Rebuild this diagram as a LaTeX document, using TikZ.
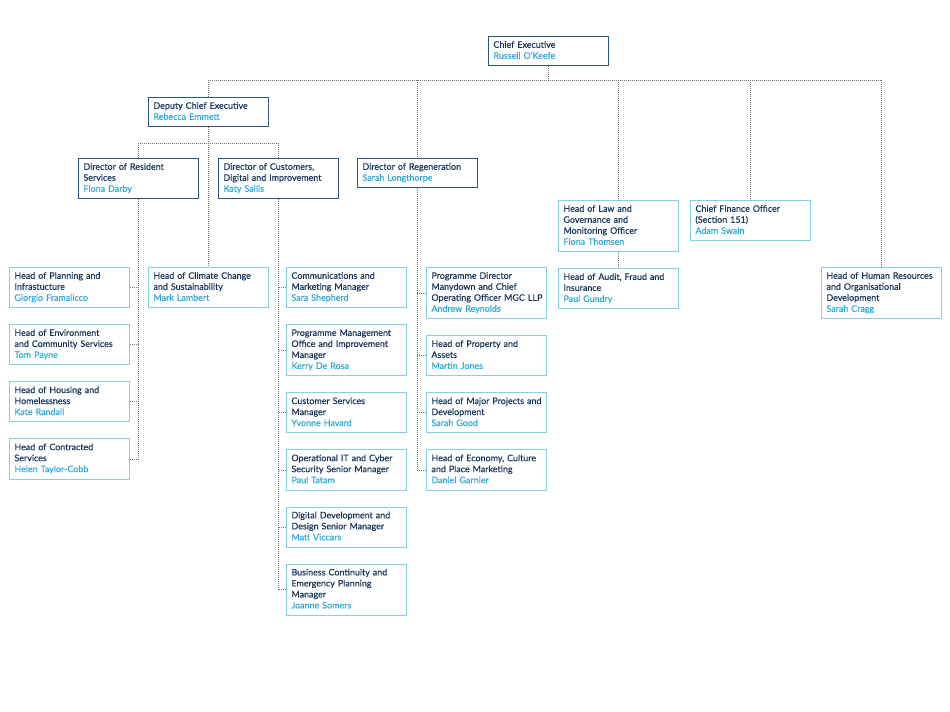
\documentclass[tikz,border=0pt]{standalone}
\usepackage{fontspec}
\setmainfont{Lato}
\usetikzlibrary{positioning}

\definecolor{darkframe}{HTML}{2B5680}
\definecolor{lightframe}{HTML}{86CFE4}
\definecolor{titletext}{HTML}{163459}
\definecolor{namecol}{HTML}{2FA8D4}
\definecolor{linegray}{HTML}{707070}

\newcommand{\post}[2]{#1\\\textcolor{namecol}{#2}}

\begin{document}
\begin{tikzpicture}[
        x=0.75pt, y=-0.75pt,
        box/.style={draw=darkframe, line width=0.7pt, rectangle, anchor=north west,
            text width=82.5pt, inner xsep=3.75pt, inner ysep=2.7pt, align=left,
            font=\fontsize{6.7}{8.25}\selectfont\addfontfeature{FakeBold=0.25}, text=titletext,
            execute at begin node=\strut, execute at end node=\strut},
        sub/.style={box, draw=lightframe},
        link/.style={draw=linegray, line width=0.6pt, dash pattern=on 0.6pt off 0.9pt},
    ]

    \tikzset{
        node distance=12pt,
    }

    \useasboundingbox (0,0) rectangle (950,712);

    \node[box] (ce) at (488,36) {\post{Chief Executive}{Russell O'Keefe}};
    \node[box] (dep) at (148,97) {\post{Deputy Chief Executive}{Rebecca Emmett}};
    \node[box] (drs) at (78,158) {\post{Director of Resident\\Services}{Fiona Darby}};
    \node[box] (dcdi) at (218,158) {\post{Director of Customers,\\Digital and Improvement}{Katy Sallis}};
    \node[box] (regen) at (357,158) {\post{Director of Regeneration}{Sarah Longthorpe}};

    \node[sub] (law) at (558,200) {\post{Head of Law and\\Governance and\\Monitoring Officer}{Fiona Thomsen}};
    \node[sub,below=of law] (audit) {\post{Head of Audit, Fraud and\\Insurance}{Paul Gundry}};
    \node[sub] (cfo) at (690,200) {\post{Chief Finance Officer\\(Section 151)}{Adam Swain}};
    \node[sub] (hr) at (821,267) {\post{Head of Human Resources\\and Organisational\\Development}{Sarah Cragg}};

    % resident services
    \node[sub] (plan) at (9,267) {\post{Head of Planning and\\Infrastucture}{Giorgio Framalicco}};
    \node[sub,below=of plan] (env) {\post{Head of Environment\\and Community Services}{Tom Payne}};
    \node[sub,below=of env] (housing) {\post{Head of Housing and\\Homelessness}{Kate Randall}};
    \node[sub,below=of housing] (contract) {\post{Head of Contracted\\Services}{Helen Taylor-Cobb}};
    \node[sub] (climate) at (148,267) {\post{Head of Climate Change\\and Sustainability}{Mark Lambert}};

    % customers, digital and improvement
    \node[sub] (comms) at (286,267) {\post{Communications and\\Marketing Manager}{Sara Shepherd}};
    \node[sub,below=of comms] (pmo) {\post{Programme Management\\Office and Improvement\\Manager}{Kerry De Rosa}};
    \node[sub,below=of pmo] (csm) {\post{Customer Services\\Manager}{Yvonne Havard}};
    \node[sub,below=of csm] (ict) {\post{Operational IT and Cyber\\Security Senior Manager}{Paul Tatam}};
    \node[sub,below=of ict] (digital) {\post{Digital Development and\\Design Senior Manager}{Matt Viccars}};
    \node[sub,below=of digital] (bcp) {\post{Business Continuity and\\Emergency Planning\\Manager}{Joanne Somers}};

    % regeneration
    \node[sub] (mgc) at (426,267) {\post{Programme Director\\Manydown and Chief\\\mbox{Operating Officer MGC LLP}}{Andrew Reynolds}};
    \node[sub,below=of mgc] (property) {\post{Head of Property and\\Assets}{Martin Jones}};
    \node[sub,below=of property] (major) {\post{\mbox{Head of Major Projects and}\\Development}{Sarah Good}};
    \node[sub,below=of major] (economy) {\post{Head of Economy, Culture\\and Place Marketing}{Daniel Garnier}};

    \coordinate (bar1) at (0,80);
    \coordinate (bar2) at (0,143);

    \draw[link] (ce.south) -- (ce.south |- bar1);
    \draw[link] (dep.north |- bar1) -- (hr.north |- bar1);
    \foreach \n in {dep,regen,law,cfo,hr}
        \draw[link] (\n.north |- bar1) -- (\n.north);

    \draw[link] (dep.south) -- (climate.north);
    \draw[link] (drs.north |- bar2) -- (dcdi.north |- bar2);
    \foreach \n in {drs,dcdi}
        \draw[link] (\n.north |- bar2) -- (\n.north);
    \draw[link] (law.south) -- (audit.north);

    \draw[link] (drs.south) -- (drs.south |- contract.east);
    \foreach \n in {plan,env,housing,contract}
        \draw[link] (\n.east) -- (\n.east -| drs.south);
    \draw[link] (dcdi.south) -- (dcdi.south |- bcp.west);
    \foreach \n in {comms,pmo,csm,ict,digital,bcp}
        \draw[link] (\n.west) -- (\n.west -| dcdi.south);
    \draw[link] (regen.south) -- (regen.south |- economy.west);
    \foreach \n in {mgc,property,major,economy}
        \draw[link] (\n.west) -- (\n.west -| regen.south);

\end{tikzpicture}
\end{document}
